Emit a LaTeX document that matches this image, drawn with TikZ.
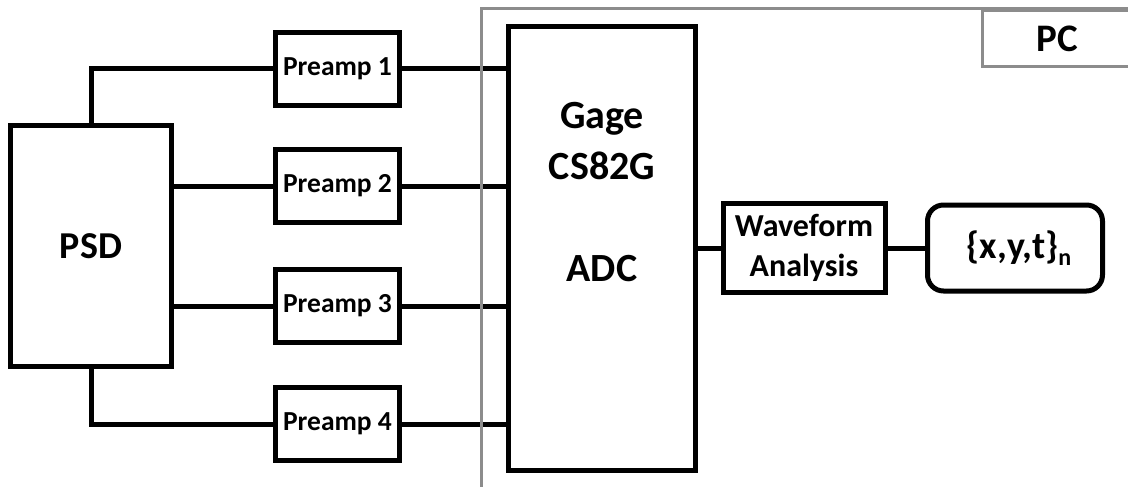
\documentclass[tikz,border=0pt]{standalone}
\usepackage{fontspec}
\setmainfont{Carlito}
\tikzset{blk/.style={draw=black, line width=5pt, fill=white, inner sep=0pt, font=\bfseries},
         wire/.style={line width=5pt},
         pcframe/.style={draw=black!45, line width=3pt}}

\begin{document}
\begin{tikzpicture}[x=1pt, y=-1pt]
            \useasboundingbox (0,0) rectangle (1128,487);
            \node[blk, minimum width=161pt, minimum height=241pt, font=\bfseries\fontsize{38}{46}\selectfont] (psd) at (91,246) {PSD};
            \foreach \i/\y in {1/69,2/186,3/306,4/424}
                \node[blk, minimum width=124pt, minimum height=73pt, font=\bfseries\fontsize{27.5}{30}\selectfont] (pre\i) at (337.5,\y) {Preamp \i};
            \node[blk, minimum width=187pt, minimum height=444pt] (adc) at (602,248.5) {};
            \node[align=center, font=\bfseries\fontsize{40}{51}\selectfont] (adclbl) at (602,192) {Gage\\CS82G\\[51pt]ADC};
            \node[blk, minimum width=162pt, minimum height=89pt, align=center, font=\bfseries\fontsize{32}{40}\selectfont] (wave) at (804,248) {Waveform\\Analysis};
            \node[blk, rounded corners=16pt, minimum width=175pt, minimum height=86pt, font=\bfseries\fontsize{38}{44}\selectfont] (res) at (1015,248) {\hspace*{8pt}\{x,y,t\}\raisebox{-7pt}{\fontsize{24}{26}\selectfont n}};
            % Connexions
            \draw[wire] (psd.north) |- (pre1.west) (psd.south) |- (pre4.west);
            \draw[wire] (pre2.west -| psd.east) -- (pre2.west) (pre3.west -| psd.east) -- (pre3.west);
            \foreach \i in {1,...,4} \draw[wire] (pre\i.east) -- (pre\i.east -| adc.west);
            \draw[wire] (wave.west -| adc.east) -- (wave.west) (wave.east) -- (res.west);
            % PC
            \draw[pcframe] (481.5,495) |- (1140,9);
            \node[pcframe, anchor=north west, minimum width=150pt, minimum height=56.5pt, font=\bfseries\fontsize{39}{42}\selectfont] (pc) at (981,9) {PC};
        \end{tikzpicture}
\end{document}
